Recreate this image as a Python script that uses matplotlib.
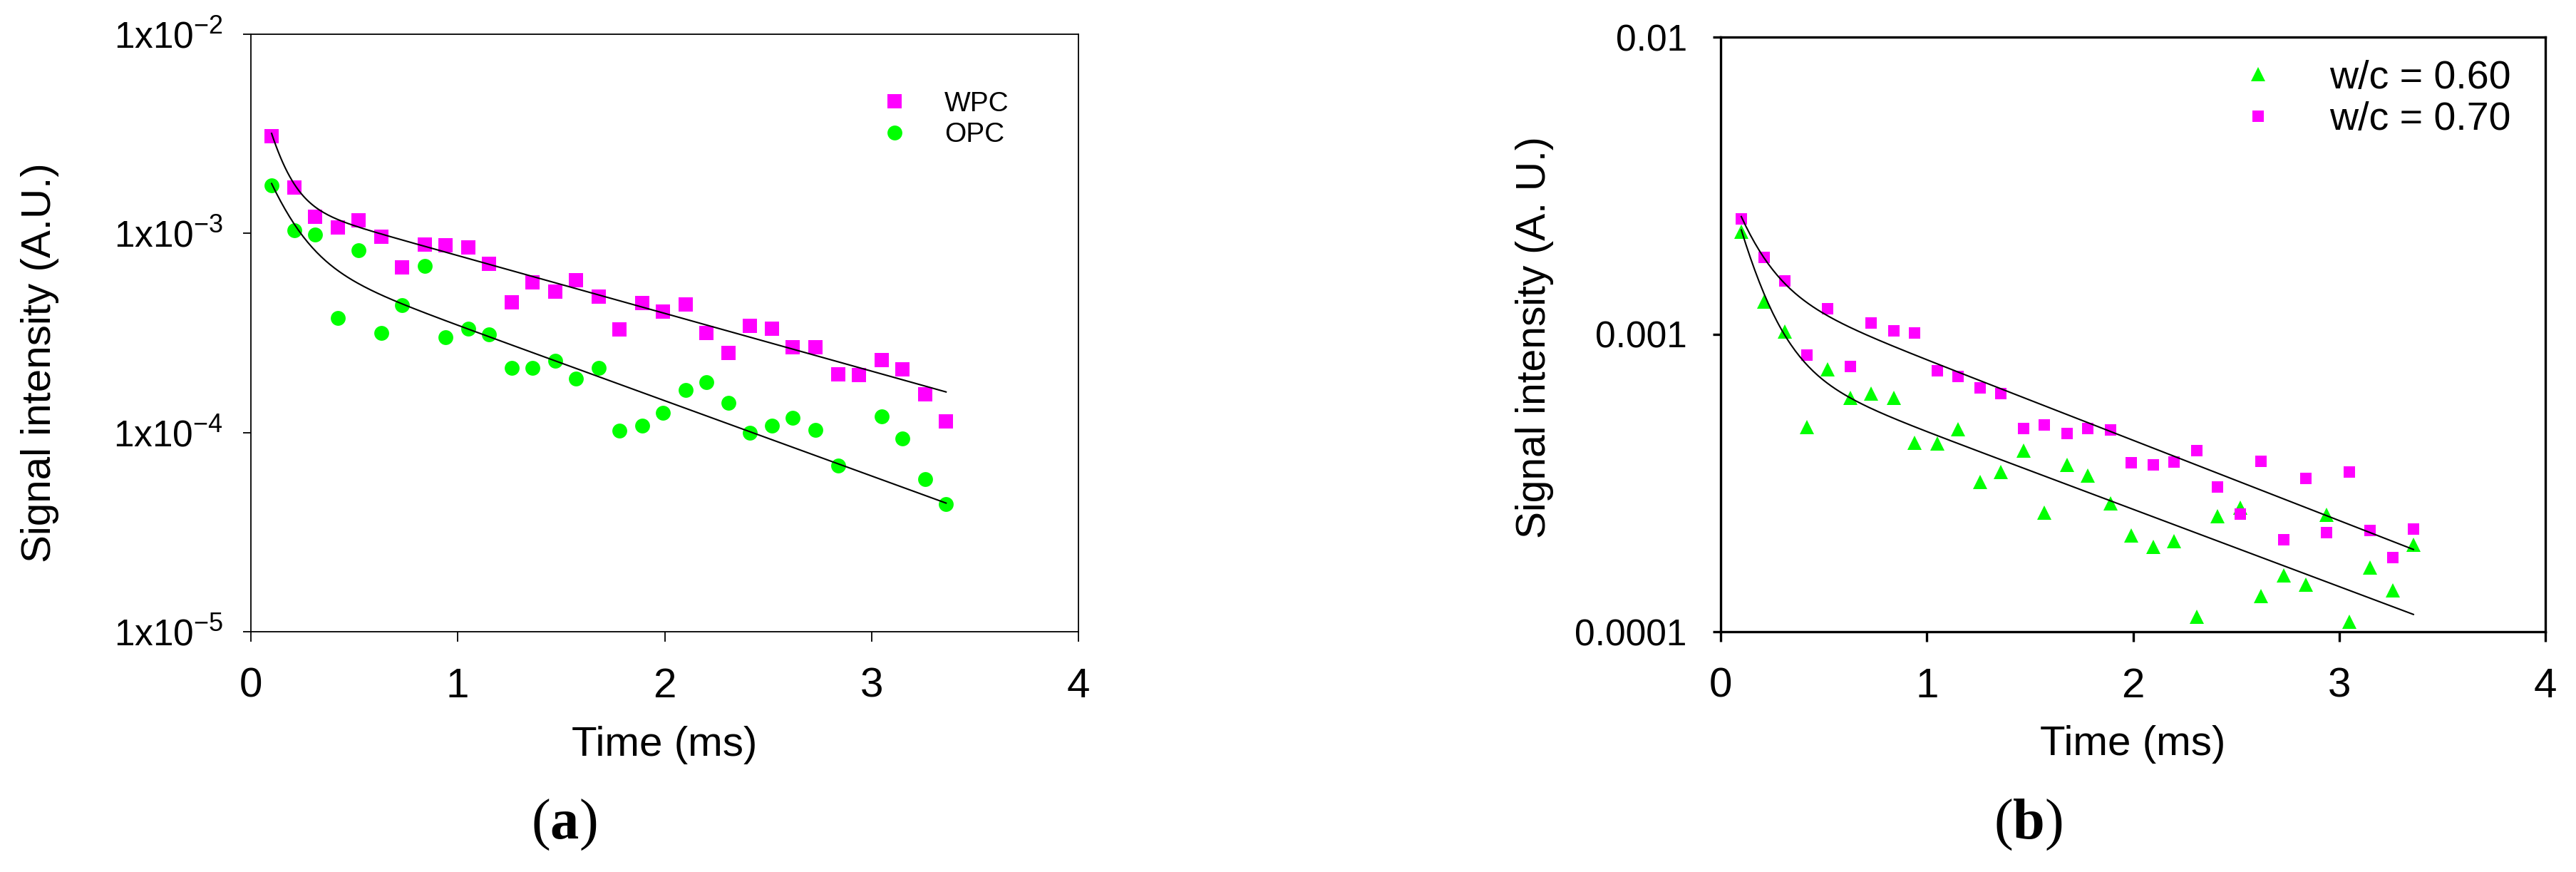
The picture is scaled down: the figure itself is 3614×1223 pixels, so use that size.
import numpy as np
import matplotlib
matplotlib.use("Agg")
import matplotlib.pyplot as plt
from matplotlib.ticker import NullLocator

plt.rcParams["font.family"] = ["Liberation Sans", "DejaVu Sans"]
plt.rcParams["mathtext.fontset"] = "custom"
plt.rcParams["mathtext.rm"] = "Liberation Sans"
plt.rcParams["mathtext.bf"] = "Liberation Serif:bold"
plt.rcParams["mathtext.default"] = "regular"

# time axis (ms), shared by both panels
time_ms = [0.10, 0.21, 0.31, 0.42, 0.52, 0.63, 0.73, 0.84, 0.94, 1.05,
           1.15, 1.26, 1.36, 1.47, 1.57, 1.68, 1.78, 1.89, 1.99, 2.10,
           2.20, 2.31, 2.41, 2.52, 2.62, 2.73, 2.84, 2.94, 3.05, 3.15,
           3.26, 3.36]

# panel (a)
wpc = [3.08e-3, 1.70e-3, 1.21e-3, 1.07e-3, 1.16e-3, 9.6e-4, 6.76e-4, 8.8e-4,
       8.7e-4, 8.5e-4, 7.03e-4, 4.52e-4, 5.70e-4, 5.11e-4, 5.82e-4, 4.80e-4,
       3.29e-4, 4.48e-4, 4.06e-4, 4.39e-4, 3.16e-4, 2.52e-4, 3.44e-4, 3.32e-4,
       2.69e-4, 2.69e-4, 1.96e-4, 1.95e-4, 2.31e-4, 2.08e-4, 1.56e-4, 1.14e-4]
# OPC has no point at 2.94 ms
opc_time = [t for t in time_ms if t != 2.94]
opc = [1.74e-3, 1.04e-3, 9.86e-4, 3.77e-4, 8.20e-4, 3.16e-4, 4.35e-4, 6.89e-4,
       3.00e-4, 3.33e-4, 3.10e-4, 2.11e-4, 2.12e-4, 2.29e-4, 1.86e-4, 2.11e-4,
       1.02e-4, 1.08e-4, 1.26e-4, 1.63e-4, 1.79e-4, 1.41e-4, 9.96e-5, 1.08e-4,
       1.19e-4, 1.03e-4, 6.84e-5, 1.21e-4, 9.37e-5, 5.86e-5, 4.38e-5]

# panel (b)
wc060 = [2.21e-3, 1.29e-3, 1.02e-3, 4.87e-4, 7.61e-4, 6.13e-4, 6.33e-4, 6.13e-4,
         4.31e-4, 4.29e-4, 4.79e-4, 3.19e-4, 3.45e-4, 4.07e-4, 2.52e-4, 3.65e-4,
         3.35e-4, 2.70e-4, 2.11e-4, 1.93e-4, 2.02e-4, 1.12e-4, 2.45e-4, 2.61e-4,
         1.32e-4, 1.55e-4, 1.44e-4, 2.48e-4, 1.08e-4, 1.64e-4, 1.38e-4, 1.96e-4]
wc070 = [2.44e-3, 1.82e-3, 1.51e-3, 8.53e-4, 1.22e-3, 7.79e-4, 1.09e-3, 1.03e-3,
         1.01e-3, 7.54e-4, 7.21e-4, 6.60e-4, 6.33e-4, 4.82e-4, 4.96e-4, 4.65e-4,
         4.82e-4, 4.76e-4, 3.70e-4, 3.65e-4, 3.72e-4, 4.06e-4, 3.06e-4, 2.49e-4,
         3.74e-4, 2.04e-4, 3.27e-4, 2.16e-4, 3.45e-4, 2.19e-4, 1.78e-4, 2.22e-4]

# biexponential fit parameters (A1, T1, A2, T2)
fit_wpc = [6.07e-3, 0.081, 1.509e-3, 1.497]
fit_opc = [2.28e-3, 0.125, 8.24e-4, 1.149]
fit_060 = [3.11e-3, 0.130, 8.55e-4, 1.670]
fit_070 = [2.20e-3, 0.136, 1.528e-3, 1.608]

MAGENTA = "#ff00ff"
GREEN = "#00ff00"


def biexp(t, p):
    return p[0] * np.exp(-t / p[1]) + p[2] * np.exp(-t / p[3])


def style_axes(ax, lw, ytick_pad):
    ax.set_yscale("log")
    ax.set_xlim(0, 4)
    ax.set_xticks([0, 1, 2, 3, 4])
    ax.set_xticklabels(["0", "1", "2", "3", "4"], fontsize=42)
    ax.xaxis.set_minor_locator(NullLocator())
    ax.yaxis.set_minor_locator(NullLocator())
    for s in ax.spines.values():
        s.set_linewidth(lw)
        s.set_color("black")
    ax.tick_params(axis="x", direction="out", length=10, width=lw, pad=26)
    ax.tick_params(axis="y", direction="out", length=8, width=lw, pad=ytick_pad)
    ax.tick_params(which="minor", length=0)


fig = plt.figure(figsize=(36.14, 12.23), dpi=100)

# ---- (a)
ax = fig.add_axes([352 / 3614, 337 / 1223, 1161 / 3614, 838 / 1223])
t_line = np.linspace(time_ms[0], time_ms[-1], 300)
ax.plot(time_ms, wpc, "s", color=MAGENTA, ms=14.4, mew=0, label="WPC", zorder=2)
ax.plot(opc_time, opc, "o", color=GREEN, ms=15, mew=0, label="OPC", zorder=2)
ax.plot(t_line, biexp(t_line, fit_wpc), color="black", lw=1.5, zorder=3)
ax.plot(t_line, biexp(t_line, fit_opc), color="black", lw=1.5, zorder=3)
ax.set_ylim(1e-5, 1e-2)
style_axes(ax, 1.3, 20)
ax.set_yticks([1e-5, 1e-4, 1e-3, 1e-2])
ax.set_yticklabels([r"1x10$^{-5}$", r"1x10$^{-4}$", r"1x10$^{-3}$", r"1x10$^{-2}$"],
                   fontsize=37)
ax.set_xlabel("Time (ms)", fontsize=42)
ax.set_ylabel("Signal intensity (A.U.)", fontsize=42)
ax.xaxis.set_label_coords(0.5, -0.157)
ax.yaxis.set_label_coords(-0.232, 0.45)
ax.legend(loc="upper left", bbox_to_anchor=(0.744, 0.905), frameon=False,
          fontsize=28, borderpad=0, handlelength=2.0, handletextpad=0.8,
          labelspacing=0.2, borderaxespad=0)

# ---- (b)
bx = fig.add_axes([2414 / 3614, 337 / 1223, 1157 / 3614, 834 / 1223])
bx.plot(time_ms, wc060, "^", color=GREEN, ms=15, mew=0, label="w/c = 0.60", zorder=2)
bx.plot(time_ms, wc070, "s", color=MAGENTA, ms=12, mew=0, label="w/c = 0.70", zorder=2)
bx.plot(t_line, biexp(t_line, fit_060), color="black", lw=1.5, zorder=3)
bx.plot(t_line, biexp(t_line, fit_070), color="black", lw=1.5, zorder=3)
bx.set_ylim(1e-4, 1e-2)
style_axes(bx, 2.4, 26)
bx.set_yticks([1e-4, 1e-3, 1e-2])
bx.set_yticklabels(["0.0001", "0.001", "0.01"], fontsize=37)
bx.set_xlabel("Time (ms)", fontsize=42)
bx.set_ylabel("Signal intensity (A. U.)", fontsize=41)
bx.xaxis.set_label_coords(0.5, -0.157)
bx.yaxis.set_label_coords(-0.202, 0.495)
bx.legend(loc="upper left", bbox_to_anchor=(0.604, 0.962), frameon=False,
          fontsize=40, borderpad=0, handlelength=2.0, handletextpad=0.8,
          labelspacing=0.12, borderaxespad=0)

# panel captions
fig.text(791 / 3614, 47 / 1223, r"($\mathbf{a}$)", fontsize=58,
         family="Liberation Serif", ha="center", va="baseline")
fig.text(2845 / 3614, 47 / 1223, r"($\mathbf{b}$)", fontsize=58,
         family="Liberation Serif", ha="center", va="baseline")

fig.savefig("out.png", dpi=100)
